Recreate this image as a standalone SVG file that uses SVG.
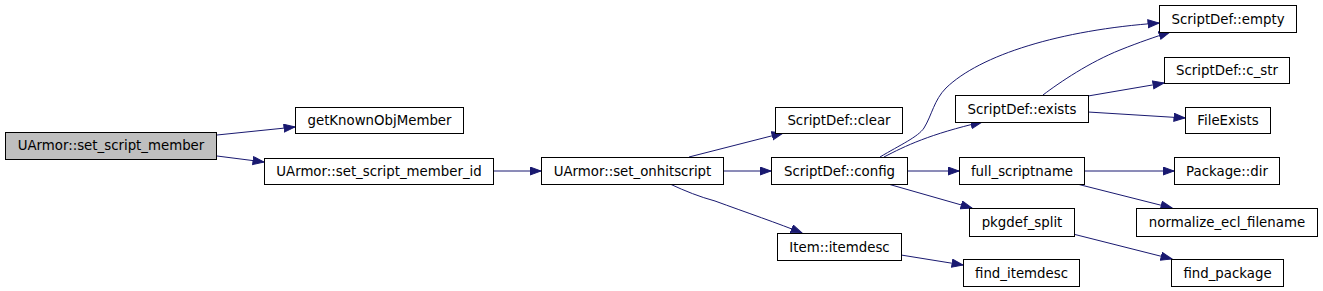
<svg xmlns="http://www.w3.org/2000/svg" width="1323" height="291" viewBox="0 0 1323 291">
<style>
.n rect{fill:#ffffff;stroke:#000000;stroke-width:1}
.n.root rect{fill:#bfbfbf}
.n text{font-family:"DejaVu Sans",sans-serif;font-size:13.33px;fill:#000000;text-anchor:middle}
.e path{fill:none;stroke:#191970;stroke-width:1;marker-end:url(#ah)}
</style>
<defs>
<marker id="ah" markerUnits="userSpaceOnUse" markerWidth="13" markerHeight="10" refX="11.5" refY="4.5" orient="auto">
<path d="M0.5,0.5 L11.5,4.5 L0.5,8.5 z" fill="#191970" stroke="#191970" stroke-width="1"/>
</marker>
</defs>
<rect width="1323" height="291" fill="#ffffff"/>
<g id="edges" class="e">
<path d="M217,135 L295,127"/>
<path d="M217,156 L264,162"/>
<path d="M493,171 L541,171"/>
<path d="M689,157 L783,133"/>
<path d="M723,171 L771,171"/>
<path d="M670,184 C685,191 700,197 715,201 C745,212 780,224 802,233"/>
<path d="M880,157 C900,145 918,137 924,128 C932,115 934,100 946,88 C980,55 1060,30 1159,23"/>
<path d="M884,157 C905,146 930,134 982,122"/>
<path d="M1043,95 C1060,82 1090,62 1120,50 C1140,42 1155,37 1170,32"/>
<path d="M1088,96 L1164,83"/>
<path d="M1088,112 L1185,118"/>
<path d="M907,171 L959,171"/>
<path d="M888,184 L972,208"/>
<path d="M901,255 L963,265"/>
<path d="M1084,171 L1174,171"/>
<path d="M1077,184 L1172,208"/>
<path d="M1073,234 L1172,259"/>
</g>
<g id="n_set_script_member" class="n root"><rect x="5.5" y="132.5" width="211" height="27"/><text x="111" y="150">UArmor::set_script_member</text></g>
<g id="n_getKnownObjMember" class="n"><rect x="295.5" y="107.5" width="168" height="26"/><text x="379.5" y="125">getKnownObjMember</text></g>
<g id="n_set_script_member_id" class="n"><rect x="264.5" y="158.5" width="229" height="26"/><text x="379" y="176">UArmor::set_script_member_id</text></g>
<g id="n_set_onhitscript" class="n"><rect x="541.5" y="157.5" width="182" height="27"/><text x="632.5" y="175.5">UArmor::set_onhitscript</text></g>
<g id="n_clear" class="n"><rect x="775.5" y="107.5" width="127" height="26"/><text x="839" y="125">ScriptDef::clear</text></g>
<g id="n_config" class="n"><rect x="771.5" y="157.5" width="136" height="27"/><text x="839.5" y="175.5">ScriptDef::config</text></g>
<g id="n_itemdesc" class="n"><rect x="777.5" y="233.5" width="124" height="27"/><text x="839.5" y="251.5">Item::itemdesc</text></g>
<g id="n_empty" class="n"><rect x="1159.5" y="5.5" width="137" height="27"/><text x="1228" y="23.5">ScriptDef::empty</text></g>
<g id="n_c_str" class="n"><rect x="1164.5" y="57.5" width="125" height="26"/><text x="1227" y="75">ScriptDef::c_str</text></g>
<g id="n_exists" class="n"><rect x="955.5" y="95.5" width="133" height="27"/><text x="1022" y="113.5">ScriptDef::exists</text></g>
<g id="n_FileExists" class="n"><rect x="1185.5" y="107.5" width="85" height="26"/><text x="1228" y="125">FileExists</text></g>
<g id="n_full_scriptname" class="n"><rect x="959.5" y="157.5" width="125" height="27"/><text x="1022" y="175.5">full_scriptname</text></g>
<g id="n_Package_dir" class="n"><rect x="1174.5" y="157.5" width="105" height="27"/><text x="1227" y="175.5">Package::dir</text></g>
<g id="n_pkgdef_split" class="n"><rect x="969.5" y="208.5" width="105" height="28"/><text x="1022" y="227">pkgdef_split</text></g>
<g id="n_normalize" class="n"><rect x="1136.5" y="208.5" width="181" height="28"/><text x="1227" y="227">normalize_ecl_filename</text></g>
<g id="n_find_itemdesc" class="n"><rect x="963.5" y="259.5" width="116" height="27"/><text x="1021.5" y="277.5">find_itemdesc</text></g>
<g id="n_find_package" class="n"><rect x="1171.5" y="259.5" width="112" height="27"/><text x="1227.5" y="277.5">find_package</text></g>
</svg>
